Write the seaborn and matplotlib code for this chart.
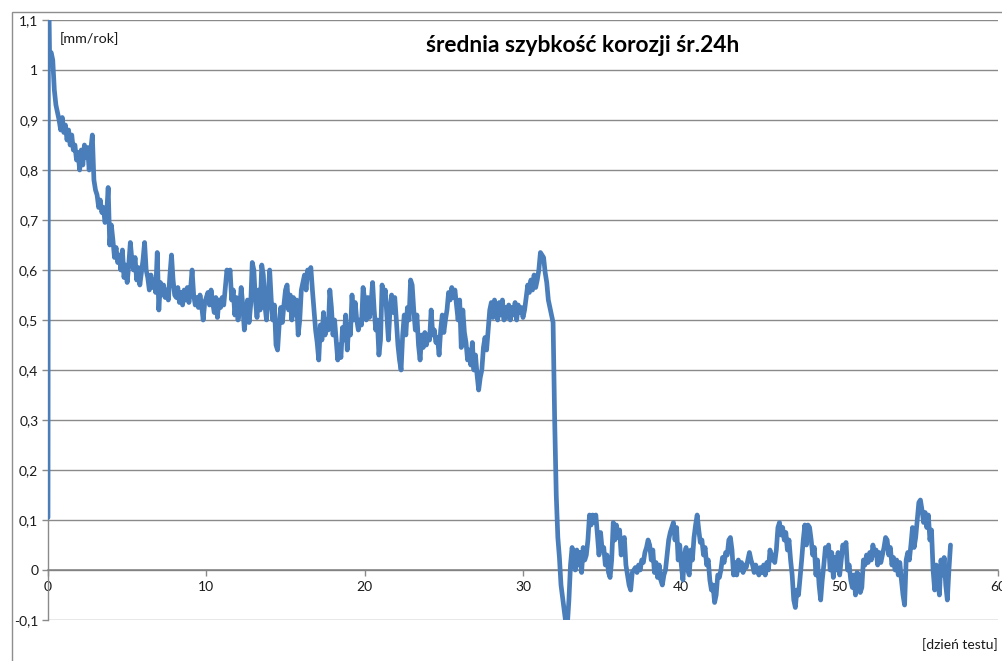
import numpy as np
import pandas as pd
import matplotlib
matplotlib.use("Agg")
import matplotlib.pyplot as plt
from matplotlib.ticker import FuncFormatter
from matplotlib.patches import Rectangle
import seaborn as sns

# --- data -------------------------------------------------------------
# logger start-up: the first readings jump straight up at day 0
start_days = [0.0, 0.03]
start_rate = [0.105, 1.20]

# daily-averaged corrosion rate [mm/rok], one row per test day,
# samples every 0.1 day starting at day 0.1
rate_rows = [
    [1.030, 1.035, 1.020, 0.960, 0.930, 0.915, 0.900, 0.880, 0.905, 0.875],  # 0
    [0.890, 0.860, 0.880, 0.850, 0.870, 0.840, 0.850, 0.820, 0.835, 0.800],  # 1
    [0.840, 0.810, 0.850, 0.825, 0.845, 0.800, 0.840, 0.870, 0.780, 0.760],  # 2
    [0.750, 0.725, 0.740, 0.715, 0.725, 0.695, 0.710, 0.765, 0.650, 0.690],  # 3
    [0.660, 0.625, 0.645, 0.615, 0.630, 0.600, 0.640, 0.585, 0.610, 0.575],  # 4
    [0.610, 0.655, 0.620, 0.600, 0.625, 0.580, 0.605, 0.570, 0.595, 0.620],  # 5
    [0.655, 0.600, 0.585, 0.560, 0.590, 0.565, 0.580, 0.555, 0.635, 0.520],  # 6
    [0.575, 0.550, 0.570, 0.545, 0.560, 0.540, 0.590, 0.630, 0.580, 0.550],  # 7
    [0.545, 0.565, 0.535, 0.555, 0.530, 0.560, 0.540, 0.565, 0.535, 0.560],  # 8
    [0.600, 0.550, 0.530, 0.545, 0.525, 0.550, 0.530, 0.500, 0.535, 0.545],  # 9
    [0.555, 0.530, 0.560, 0.535, 0.515, 0.545, 0.505, 0.540, 0.525, 0.545],  # 10
    [0.530, 0.565, 0.600, 0.585, 0.600, 0.540, 0.560, 0.510, 0.545, 0.500],  # 11
    [0.520, 0.565, 0.530, 0.480, 0.510, 0.540, 0.495, 0.530, 0.615, 0.600],  # 12
    [0.540, 0.505, 0.560, 0.520, 0.610, 0.590, 0.530, 0.500, 0.545, 0.600],  # 13
    [0.540, 0.500, 0.530, 0.450, 0.440, 0.490, 0.525, 0.495, 0.530, 0.560],  # 14
    [0.570, 0.520, 0.550, 0.500, 0.545, 0.510, 0.540, 0.470, 0.500, 0.560],  # 15
    [0.575, 0.590, 0.560, 0.600, 0.585, 0.605, 0.560, 0.520, 0.480, 0.455],  # 16
    [0.420, 0.490, 0.460, 0.515, 0.470, 0.500, 0.480, 0.560, 0.525, 0.470],  # 17
    [0.500, 0.460, 0.420, 0.450, 0.425, 0.485, 0.460, 0.510, 0.440, 0.490],  # 18
    [0.470, 0.550, 0.500, 0.535, 0.500, 0.480, 0.500, 0.490, 0.565, 0.540],  # 19
    [0.500, 0.545, 0.505, 0.530, 0.575, 0.520, 0.480, 0.500, 0.430, 0.460],  # 20
    [0.570, 0.540, 0.560, 0.510, 0.460, 0.520, 0.550, 0.515, 0.545, 0.500],  # 21
    [0.450, 0.420, 0.400, 0.470, 0.510, 0.470, 0.525, 0.500, 0.580, 0.570],  # 22
    [0.520, 0.480, 0.510, 0.450, 0.420, 0.470, 0.445, 0.475, 0.450, 0.470],  # 23
    [0.460, 0.520, 0.470, 0.480, 0.455, 0.465, 0.430, 0.480, 0.510, 0.475],  # 24
    [0.500, 0.520, 0.555, 0.540, 0.565, 0.545, 0.560, 0.530, 0.500, 0.540],  # 25
    [0.445, 0.520, 0.475, 0.455, 0.420, 0.440, 0.410, 0.455, 0.400, 0.430],  # 26
    [0.390, 0.360, 0.385, 0.400, 0.445, 0.465, 0.440, 0.480, 0.520, 0.535],  # 27
    [0.505, 0.540, 0.520, 0.500, 0.535, 0.510, 0.540, 0.500, 0.525, 0.505],  # 28
    [0.530, 0.500, 0.525, 0.510, 0.535, 0.500, 0.530, 0.515, 0.525, 0.505],  # 29
    [0.520, 0.545, 0.570, 0.555, 0.580, 0.560, 0.590, 0.565, 0.580, 0.600],  # 30
    [0.635, 0.630, 0.625, 0.595, 0.575, 0.540, 0.525, 0.510, 0.495, 0.300],  # 31
    [0.150, 0.065, 0.025, -0.030, -0.055, -0.080, -0.105, -0.110, -0.060, 0.010],  # 32
    [0.045, 0.030, 0.000, 0.040, 0.010, 0.035, -0.005, 0.045, 0.020, 0.030],  # 33
    [0.060, 0.110, 0.090, 0.110, 0.095, 0.110, 0.070, 0.030, 0.075, 0.040],  # 34
    [0.045, 0.010, 0.030, -0.005, -0.015, 0.020, 0.095, 0.060, 0.090, 0.065],  # 35
    [0.080, 0.030, 0.055, 0.065, 0.010, -0.010, -0.030, -0.040, -0.005, 0.000],  # 36
    [0.005, -0.005, 0.010, 0.000, 0.020, 0.015, 0.035, 0.045, 0.060, 0.050],  # 37
    [0.020, 0.040, -0.005, 0.015, -0.015, 0.010, -0.020, -0.030, -0.010, 0.000],  # 38
    [0.030, 0.060, 0.075, 0.085, 0.095, 0.060, 0.085, 0.020, 0.050, 0.010],  # 39
    [-0.020, 0.030, 0.045, 0.000, -0.010, 0.040, 0.020, 0.065, 0.090, 0.110],  # 40
    [0.080, 0.055, 0.060, 0.030, 0.045, 0.010, 0.020, -0.020, -0.040, -0.030],  # 41
    [-0.065, -0.050, -0.010, -0.015, 0.000, 0.025, 0.015, 0.035, 0.030, 0.060],  # 42
    [0.065, 0.040, -0.010, 0.015, -0.010, 0.020, 0.000, 0.015, -0.005, 0.010],  # 43
    [0.005, 0.020, 0.035, 0.020, 0.010, -0.005, 0.010, 0.000, -0.010, 0.005],  # 44
    [-0.005, 0.010, -0.010, 0.015, 0.000, 0.040, 0.020, 0.030, 0.015, 0.040],  # 45
    [0.085, 0.095, 0.070, 0.085, 0.060, 0.075, 0.040, 0.060, 0.020, -0.010],  # 46
    [-0.060, -0.075, -0.040, -0.050, -0.015, 0.020, 0.060, 0.090, 0.050, 0.090],  # 47
    [0.085, 0.060, 0.030, 0.045, -0.010, 0.020, -0.030, -0.060, -0.020, 0.010],  # 48
    [0.045, 0.030, 0.050, 0.000, 0.035, -0.015, 0.025, 0.000, 0.035, -0.010],  # 49
    [0.020, 0.050, 0.040, 0.055, 0.000, 0.010, -0.020, -0.035, -0.010, -0.050],  # 50
    [-0.005, -0.010, -0.045, -0.035, 0.020, 0.010, 0.030, 0.015, 0.035, 0.020],  # 51
    [0.050, 0.030, 0.040, 0.010, 0.035, 0.015, 0.030, 0.045, 0.065, 0.060],  # 52
    [0.030, 0.045, 0.010, 0.025, 0.000, 0.020, -0.010, 0.015, -0.020, -0.050],  # 53
    [-0.070, 0.020, 0.035, 0.020, 0.050, 0.085, 0.045, 0.065, 0.100, 0.135],  # 54
    [0.140, 0.120, 0.095, 0.115, 0.085, 0.110, 0.060, 0.080, 0.000, -0.040],  # 55
    [0.010, -0.020, -0.050, 0.020, -0.010, 0.025, -0.030, -0.060, 0.000, 0.050],  # 56
]
sample_step = 0.1

y_ticks = [-0.1, 0.0, 0.1, 0.2, 0.3, 0.4, 0.5, 0.6, 0.7, 0.8, 0.9, 1.0, 1.1]
x_ticks = [0, 10, 20, 30, 40, 50, 60]

title = "średnia szybkość korozji śr.24h"
y_unit = "[mm/rok]"
x_unit = "[dzień testu]"

# --- assemble series --------------------------------------------------
sampled = [v for row in rate_rows for v in row]
sample_days = [round(sample_step * (i + 1), 2) for i in range(len(sampled))]
df = pd.DataFrame({
    "dzien": start_days + sample_days,
    "szybkosc": start_rate + sampled,
})

# --- figure -----------------------------------------------------------
sns.set_theme(style="white")
plt.rcParams["font.family"] = ["Lato", "DejaVu Sans"]

W, H = 1002, 661
fig = plt.figure(figsize=(W / 100, H / 100), dpi=100)
fig.patch.set_facecolor("white")

# chart-area frame
fig.patches.append(Rectangle((12 / W, -0.05), 1.2, 1 - 12 / H + 0.05,
                             transform=fig.transFigure, fill=False,
                             edgecolor="#8e8e8e", linewidth=1.0, zorder=0))

ax = fig.add_axes([48 / W, (H - 620) / H, 950 / W, 600 / H])
ax.set_facecolor("white")

grid_col = "#8a8a8a"
for yv in y_ticks:
    ax.axhline(yv, color=grid_col, linewidth=1.0, zorder=1)

sns.lineplot(data=df, x="dzien", y="szybkosc", ax=ax, color="#4A7EBB",
             linewidth=3.4, estimator=None, sort=False, zorder=3)

ax.set_xlim(0, 60)
ax.set_ylim(-0.1, 1.1)
ax.set_xticks(x_ticks)
ax.set_yticks(y_ticks)


def comma_fmt(v, pos):
    s = f"{v:.1f}"
    if s.endswith(".0"):
        s = s[:-2]
    if s == "-0":
        s = "0"
    return s.replace(".", ",")


ax.yaxis.set_major_formatter(FuncFormatter(comma_fmt))
ax.xaxis.set_major_formatter(FuncFormatter(lambda v, p: f"{int(v)}"))

for side in ["top", "right"]:
    ax.spines[side].set_visible(False)
ax.spines["left"].set_color(grid_col)
ax.spines["left"].set_linewidth(1.0)
ax.spines["bottom"].set_position(("data", 0))
ax.spines["bottom"].set_color("#808080")
ax.spines["bottom"].set_linewidth(1.1)
ax.spines["left"].set_zorder(2)

ax.tick_params(axis="y", direction="out", length=4, width=1.0,
               color=grid_col, pad=3, labelsize=10, labelcolor="#1a1a1a",
               left=True)
ax.tick_params(axis="x", direction="out", length=4, width=1.0,
               color=grid_col, pad=4, labelsize=10, labelcolor="#1a1a1a",
               bottom=True)
ax.set_xlabel("")
ax.set_ylabel("")

fig.text(60 / W, 1 - 39 / H, y_unit, fontsize=10.3, color="#1a1a1a",
         ha="left", va="center")
fig.text(583 / W, 1 - 45 / H, title, fontsize=16.4, fontweight="bold",
         color="black", ha="center", va="center")
fig.text(998 / W, 1 - 645 / H, x_unit, fontsize=10, color="#1a1a1a",
         ha="right", va="center")

fig.savefig("out.png", dpi=100, facecolor="white")
